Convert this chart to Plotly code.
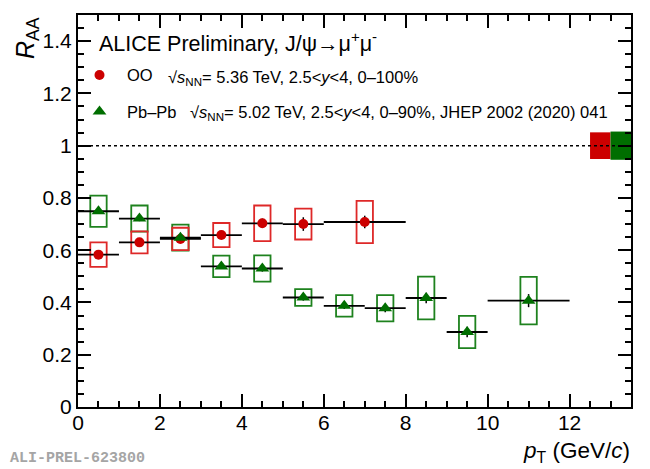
import plotly.graph_objects as go

# ---- data ----
oo_x = [0.5, 1.5, 2.5, 3.5, 4.5, 5.5, 7.0]
oo_xerr = [0.5, 0.5, 0.5, 0.5, 0.5, 0.5, 1.0]
oo_y = [0.583, 0.630, 0.643, 0.658, 0.703, 0.700, 0.708]
oo_stat = [0.010, 0.012, 0.012, 0.014, 0.018, 0.026, 0.024]
oo_sys = [0.047, 0.042, 0.043, 0.046, 0.068, 0.059, 0.081]
oo_global = 0.051

pb_x = [0.5, 1.5, 2.5, 3.5, 4.5, 5.5, 6.5, 7.5, 8.5, 9.5, 11.0]
pb_xerr = [0.5, 0.5, 0.5, 0.5, 0.5, 0.5, 0.5, 0.5, 0.5, 0.5, 1.0]
pb_y = [0.749, 0.721, 0.648, 0.538, 0.530, 0.419, 0.387, 0.378, 0.417, 0.287, 0.407]
pb_stat = [0.010, 0.010, 0.010, 0.010, 0.012, 0.012, 0.012, 0.015, 0.020, 0.020, 0.025]
pb_sys = [0.060, 0.050, 0.050, 0.041, 0.050, 0.032, 0.041, 0.050, 0.082, 0.062, 0.091]
pb_global = 0.054

x_range = [0, 13.5]
y_range = [0, 1.5]

RED = "rgb(204,0,0)"
RED_BOX = "rgb(222,40,40)"
GREEN = "rgb(0,110,0)"
GREEN_BOX = "rgb(30,130,30)"
BOX_HW = 0.2

# page is offset by the 8px body margin; positions below are in page pixels
W, H, L, T = 553, 394, 70, 5


def px(page_x):
    return (page_x - 8 - L) / W


def py(page_y):
    return (T + H - (page_y - 8)) / H


fig = go.Figure()

shapes = []
for x, y, s in zip(pb_x, pb_y, pb_sys):
    shapes.append(dict(type="rect", xref="x", yref="y", x0=x - BOX_HW, x1=x + BOX_HW,
                       y0=y - s, y1=y + s, line=dict(color=GREEN_BOX, width=1.8),
                       fillcolor="rgba(0,0,0,0)", layer="below"))
for x, y, s in zip(oo_x, oo_y, oo_sys):
    shapes.append(dict(type="rect", xref="x", yref="y", x0=x - BOX_HW, x1=x + BOX_HW,
                       y0=y - s, y1=y + s, line=dict(color=RED_BOX, width=1.8),
                       fillcolor="rgba(0,0,0,0)", layer="below"))
shapes.append(dict(type="rect", xref="x", yref="y", x0=12.5, x1=13.0,
                   y0=1 - oo_global, y1=1 + oo_global, line=dict(width=0),
                   fillcolor=RED, layer="below"))
shapes.append(dict(type="rect", xref="x", yref="y", x0=13.0, x1=13.5,
                   y0=1 - pb_global, y1=1 + pb_global, line=dict(width=0),
                   fillcolor=GREEN, layer="below"))
shapes.append(dict(type="line", xref="x", yref="y", x0=x_range[0], x1=x_range[1],
                   y0=1, y1=1, line=dict(color="black", width=1.5, dash="dot"),
                   layer="above"))

fig.add_trace(go.Scatter(
    x=oo_x, y=oo_y, mode="markers", name="OO", legendgroup="oo",
    marker=dict(symbol="circle", size=10, color=RED),
    error_x=dict(type="data", array=oo_xerr, color="black", thickness=1.8, width=0),
    error_y=dict(type="data", array=oo_stat, color="black", thickness=1.5, width=0),
))
fig.add_trace(go.Scatter(
    x=pb_x, y=pb_y, mode="markers", name="Pb–Pb", legendgroup="pb",
    marker=dict(symbol="triangle-up", size=12, color=GREEN),
    error_x=dict(type="data", array=pb_xerr, color="black", thickness=1.8, width=0),
    error_y=dict(type="data", array=pb_stat, color="black", thickness=1.5, width=0),
))

FONT = "Liberation Sans, Arial, sans-serif"

axis_common = dict(
    showgrid=False, zeroline=False, showline=True, linecolor="black", linewidth=2,
    mirror="allticks", ticks="inside", ticklen=13, tickwidth=1.5, tickcolor="black",
    tickfont=dict(family=FONT, size=21, color="black"),
)

fig.update_layout(
    width=642, height=461,
    margin=dict(l=L, r=19, t=T, b=62),
    paper_bgcolor="white", plot_bgcolor="white",
    shapes=shapes,
    showlegend=True,
    legend=dict(x=px(72), y=py(56), xanchor="left", yanchor="top",
                font=dict(family=FONT, size=16.5, color="black"),
                bgcolor="rgba(0,0,0,0)", tracegroupgap=12, itemwidth=45),
    xaxis=dict(range=x_range, dtick=2, tick0=0, ticklabelstandoff=-4,
               minor=dict(dtick=0.5, ticks="inside", ticklen=6, tickwidth=1.5, tickcolor="black"),
               **axis_common),
    yaxis=dict(range=y_range, dtick=0.2, tick0=0,
               minor=dict(dtick=0.05, ticks="inside", ticklen=6, tickwidth=1.5, tickcolor="black"),
               **axis_common),
    annotations=[
        dict(text="ALICE Preliminary, J/ψ→μ<sup>+</sup>μ<sup>-</sup>", xref="paper", yref="paper",
             x=px(97), y=py(40), xanchor="left", yanchor="middle",
             showarrow=False, font=dict(family=FONT, size=21.5, color="black")),
        dict(text="√<i>s</i><sub>NN</sub>= 5.36 TeV, 2.5&lt;<i>y</i>&lt;4, 0–100%",
             xref="paper", yref="paper", x=px(166), y=py(76), xanchor="left", yanchor="middle",
             showarrow=False, font=dict(family=FONT, size=16.5, color="black")),
        dict(text="√<i>s</i><sub>NN</sub>= 5.02 TeV, 2.5&lt;<i>y</i>&lt;4, 0–90%, JHEP 2002 (2020) 041",
             xref="paper", yref="paper", x=px(188), y=py(112), xanchor="left", yanchor="middle",
             showarrow=False, font=dict(family=FONT, size=16.5, color="black")),
        dict(text="<i>R</i><sub>AA</sub>", xref="paper", yref="paper", textangle=-90,
             x=px(27), y=py(13), xanchor="center", yanchor="top",
             showarrow=False, font=dict(family=FONT, size=25, color="black")),
        dict(text="<i>p</i><sub>T</sub> (GeV/<i>c</i>)", xref="paper", yref="paper",
             x=px(632), y=py(452), xanchor="right", yanchor="middle",
             showarrow=False, font=dict(family=FONT, size=22.5, color="black")),
        dict(text="<b>ALI-PREL-623800</b>", xref="paper", yref="paper",
             x=px(8), y=py(459), xanchor="left", yanchor="middle",
             showarrow=False, font=dict(family="Liberation Mono, Courier New, monospace",
                                       size=15, color="rgb(165,165,165)")),
    ],
)

fig.write_html("out.html")
